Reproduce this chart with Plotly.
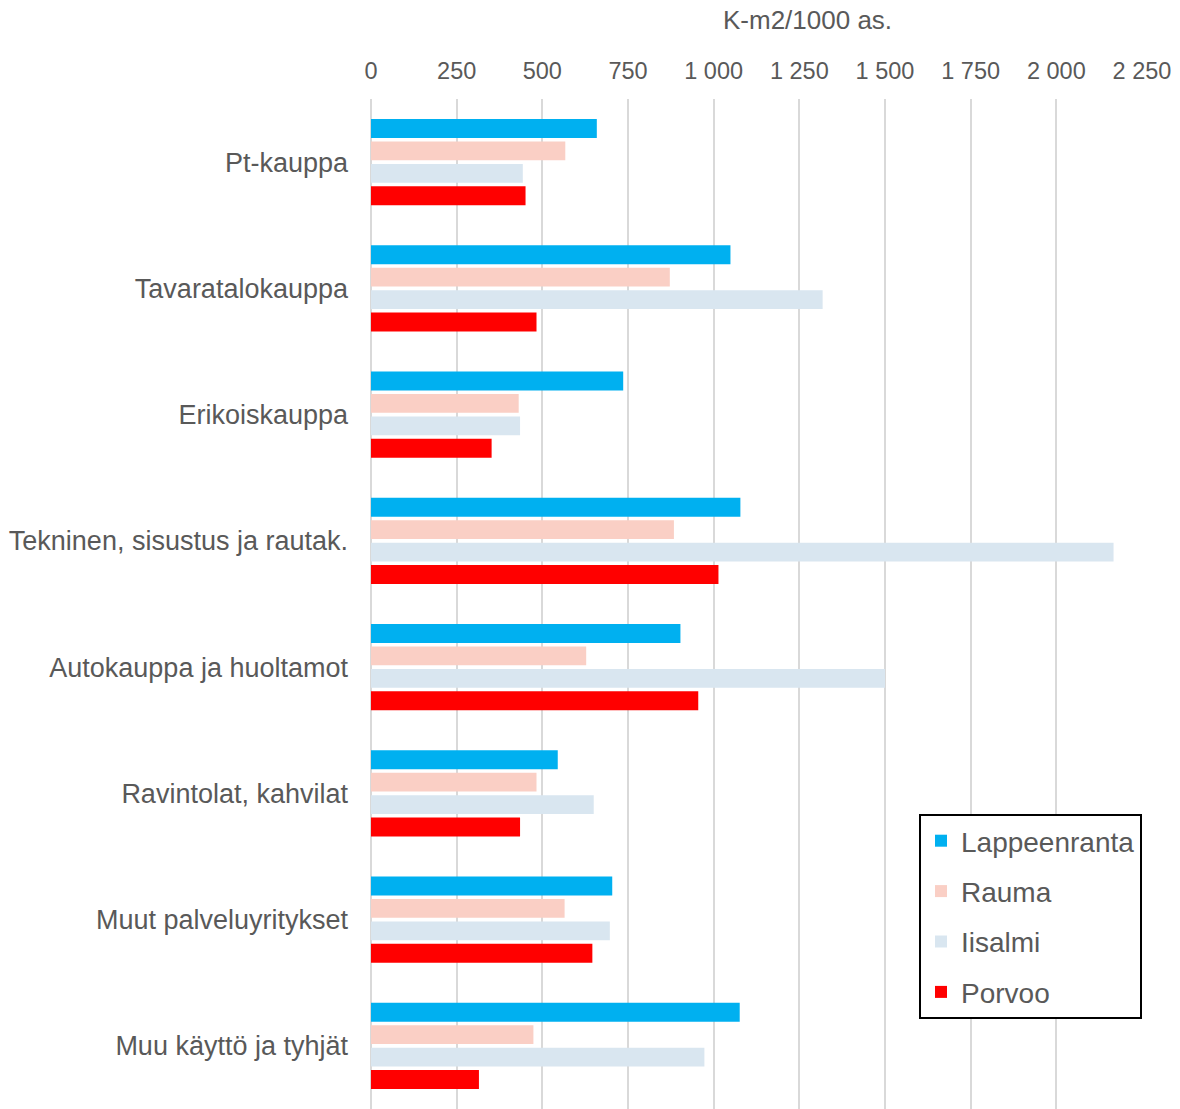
import plotly.graph_objects as go

categories = [
    "Pt-kauppa",
    "Tavaratalokauppa",
    "Erikoiskauppa",
    "Tekninen, sisustus ja rautak.",
    "Autokauppa ja huoltamot",
    "Ravintolat, kahvilat",
    "Muut palveluyritykset",
    "Muu käyttö ja tyhjät",
]

lappeenranta = [659, 1049, 736, 1078, 903, 545, 704, 1076]
rauma = [567, 872, 431, 884, 628, 483, 565, 474]
iisalmi = [443, 1318, 435, 2167, 1500, 650, 697, 973]
porvoo = [451, 483, 352, 1014, 955, 435, 646, 315]

series_names = ["Lappeenranta", "Rauma", "Iisalmi", "Porvoo"]
series_values = [lappeenranta, rauma, iisalmi, porvoo]
series_colors = ["#00B0F0", "#FACFC5", "#D9E6F0", "#FF0000"]

tick_values = list(range(0, 2251, 250))

FONT = "Liberation Sans, Arial, sans-serif"
GRAY = "#595959"

fig = go.Figure()
for i, (name, vals, col) in enumerate(zip(series_names, series_values, series_colors)):
    fig.add_trace(go.Bar(
        y=categories, x=vals, name=name, orientation="h",
        marker=dict(color=col, line=dict(width=0)),
        legendgroup=f"g{i}",
    ))

W, H = 1180, 1109
L, R, T, B = 371, 38, 99, 0
plot_w = W - L - R
plot_h = H - T - B

fig.update_layout(
    width=W, height=H,
    margin=dict(l=L, r=R, t=T, b=B, pad=0),
    paper_bgcolor="white", plot_bgcolor="white",
    barmode="group", bargap=0.29, bargroupgap=0.16,
    separators=", ",
    font=dict(family=FONT, color=GRAY),
    xaxis=dict(
        side="top", range=[0, 2250], tickvals=tick_values, tickformat=",d",
        showgrid=True, gridcolor="#D9D9D9", gridwidth=2,
        zeroline=True, zerolinecolor="#D9D9D9", zerolinewidth=2,
        showline=False, ticks="", ticklabelstandoff=14,
        tickfont=dict(size=23.5, color=GRAY, family=FONT),
        fixedrange=True,
    ),
    yaxis=dict(
        autorange="reversed", showgrid=False, zeroline=False, showline=False,
        ticks="", ticklabelstandoff=22,
        tickfont=dict(size=27, color=GRAY, family=FONT),
        fixedrange=True,
    ),
    legend=dict(
        x=(919 - L) / plot_w, xanchor="left",
        y=1 - (814 - T) / plot_h, yanchor="top",
        bordercolor="black", borderwidth=2, bgcolor="white",
        font=dict(size=28, color=GRAY, family=FONT),
        traceorder="grouped", tracegroupgap=11,
    ),
    annotations=[dict(
        text="K-m2/1000 as.", xref="paper", yref="paper",
        x=(807 - L) / plot_w, y=1 + (T - 20) / plot_h,
        xanchor="center", yanchor="middle", showarrow=False,
        font=dict(size=26, color=GRAY, family=FONT),
    )],
)

fig.write_html("out.html")
